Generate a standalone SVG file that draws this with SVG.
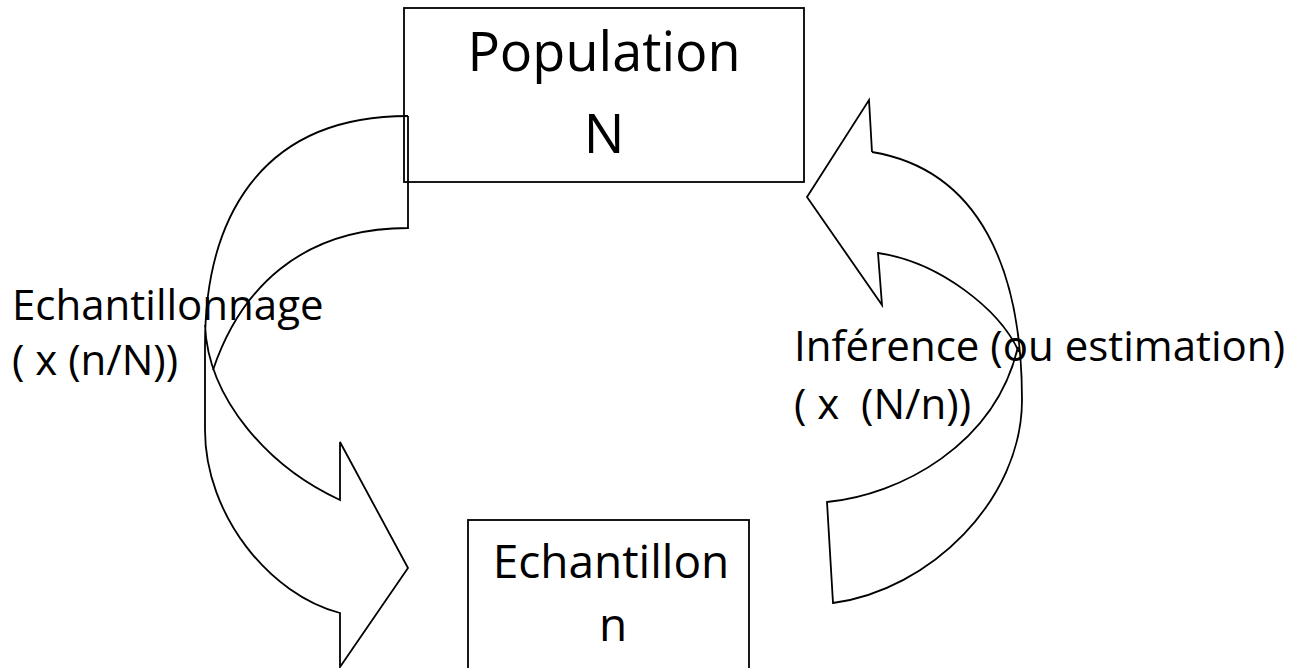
<svg xmlns="http://www.w3.org/2000/svg" width="1299" height="668" viewBox="0 0 1299 668">
  <style>
    .box { fill: #ffffff; stroke: #000000; stroke-width: 1.8; }
    .arrow { fill: none; stroke: #000000; stroke-width: 1.8; stroke-linejoin: miter; }
    .t { font-family: "Open Sans", "Noto Sans", "Liberation Sans", sans-serif; fill: #000000; white-space: pre; }
    .big { font-size: 54px; text-anchor: middle; }
    .mid { font-size: 46px; text-anchor: middle; }
    .lab { font-size: 42px; }
  </style>
  <rect width="1299" height="668" fill="#ffffff"/>

  <g id="node-population">
    <rect class="box" x="404" y="8" width="400" height="174"/>
    <text class="t big" x="604" y="71">Population</text>
    <text class="t big" x="604" y="153">N</text>
  </g>

  <g id="node-echantillon">
    <rect class="box" x="468" y="520" width="281" height="160"/>
    <text class="t mid" x="611" y="578">Echantillon</text>
    <text class="t mid" x="613" y="641">n</text>
  </g>

  <g id="connectors">
    <g id="arrow-echantillonnage">
      <path class="arrow" d="M408,116 L408,228 C300,228 240,290 213,370"/>
      <path class="arrow" d="M408,116 C256,116 205,224 205,345 L205,430 C205,515 270,595 340,613 L340,667 L408,568 L340,442 L340,500 C270,468 208,400 205,325"/>
    </g>
    <g id="arrow-inference">
      <path class="arrow" d="M872,152 L869,100 L807,197 L882,305 L878,253 C940,262 1000,310 1019,352"/>
      <path class="arrow" d="M872,152 C980,170 1022,270 1022,400 C1022,500 930,590 833,603 L827,502 C900,495 995,445 1018,347"/>
    </g>
    <g id="labels">
      <text class="t lab" x="12" y="320">Echantillonnage</text>
      <text class="t lab" x="12" y="375">( x (n/N))</text>
      <text class="t lab" x="794" y="361">Inférence (ou estimation)</text>
      <text class="t lab" x="794" y="419">( x  (N/n))</text>
    </g>
  </g>
</svg>
